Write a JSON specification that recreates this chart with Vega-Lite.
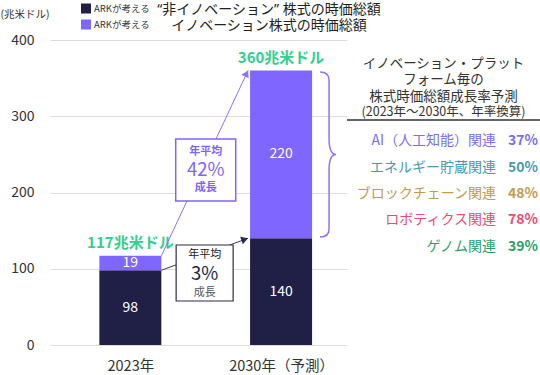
{
  "$schema": "https://vega.github.io/schema/vega-lite/v6.json",
  "padding": {"left": 0, "top": 2, "right": 0, "bottom": 0},
  "config": {
    "view": {"stroke": null},
    "font": "Noto Sans CJK JP",
    "locale": {"number": {"decimal": ".", "thousands": ",", "grouping": [3], "currency": ["", "兆米ドル"]}}
  },
  "datasets": {
    "segments": [
      {"year": 2023, "segment": "非イノベーション", "legendText": "“非イノベーション” 株式の時価総額", "value": 98},
      {"year": 2023, "segment": "イノベーション", "legendText": "イノベーション株式の時価総額", "value": 19},
      {"year": 2030, "segment": "非イノベーション", "legendText": "“非イノベーション” 株式の時価総額", "value": 140},
      {"year": 2030, "segment": "イノベーション", "legendText": "イノベーション株式の時価総額", "value": 220}
    ],
    "growth": [
      {"from": 2023, "to": 2030, "start": 117, "end": 360, "segment": "イノベーション", "rate": 0.42},
      {"from": 2023, "to": 2030, "start": 98, "end": 140, "segment": "非イノベーション", "rate": 0.03}
    ],
    "sectors": [
      {"sector": "AI（人工知能）関連", "cagr": 0.37},
      {"sector": "エネルギー貯蔵関連", "cagr": 0.50},
      {"sector": "ブロックチェーン関連", "cagr": 0.48},
      {"sector": "ロボティクス関連", "cagr": 0.78},
      {"sector": "ゲノム関連", "cagr": 0.39}
    ]
  },
  "spacing": 0,
  "bounds": "flush",
  "center": true,
  "resolve": {"scale": {"color": "independent", "fill": "independent", "stroke": "independent", "opacity": "independent"}, "legend": {"color": "independent", "opacity": "independent"}},
  "hconcat": [
    {
      "width": 297,
      "height": 305,
      "layer": [
        {
          "data": {"name": "segments"},
          "mark": {"type": "bar", "size": 62},
          "encoding": {
            "x": {"field": "year", "type": "quantitative", "scale": {"domain": [2019.5, 2032.83], "nice": false, "zero": false},
              "axis": {"values": [2023, 2030], "labelExpr": "datum.value == 2023 ? '2023年' : '2030年（予測）'", "title": null, "ticks": false, "domain": false, "grid": false, "labelFontSize": 14.5, "labelColor": "#333333", "labelPadding": 14}},
            "y": {"field": "value", "type": "quantitative", "stack": "zero", "scale": {"domain": [0, 400], "nice": false},
              "axis": {"values": [0, 100, 200, 300, 400], "title": "(兆米ドル)", "titleAngle": 0, "titleAlign": "left", "titleBaseline": "middle", "titleX": -50, "titleY": -26, "titleFontSize": 10.5, "titleFontWeight": "normal", "titleColor": "#333333", "labelFontSize": 14, "labelColor": "#333333", "labelPadding": 16, "ticks": false, "domain": false, "gridColor": "#DDDDDD", "gridWidth": 1.2}},
            "color": {"field": "segment", "type": "nominal", "scale": {"domain": ["非イノベーション", "イノベーション"], "range": ["#201F46", "#7F66FF"]},
              "legend": {"orient": "none", "legendX": 31, "legendY": -36.5, "direction": "vertical", "title": null, "symbolType": "square", "symbolSize": 100, "symbolStrokeWidth": 0, "labelFontSize": 9.5, "labelColor": "#333333", "labelOffset": 3, "rowPadding": 6, "labelExpr": "'ARKが考える'", "padding": 0}},
            "opacity": {"field": "legendText", "type": "ordinal", "scale": {"domain": ["“非イノベーション” 株式の時価総額", "イノベーション株式の時価総額"], "range": [1, 1]},
              "legend": {"orient": "none", "legendX": 205, "legendY": -37.5, "direction": "vertical", "title": null, "symbolSize": 0, "symbolStrokeWidth": 0, "symbolOpacity": 0, "labelFont": "Noto Sans, Noto Sans CJK JP", "labelAlign": "center", "labelFontSize": 14, "labelLimit": 400, "labelColor": "#222222", "labelOffset": 0, "rowPadding": 2, "padding": 0}},
            "order": {"field": "segment", "sort": "descending"}
          }
        },
        {
          "data": {"name": "segments"},
          "mark": {"type": "text", "color": "white", "fontSize": 14},
          "encoding": {
            "x": {"field": "year", "type": "quantitative"},
            "y": {"field": "value", "type": "quantitative", "stack": "zero", "bandPosition": 0.5},
            "text": {"field": "value", "type": "quantitative"},
            "order": {"field": "segment", "sort": "descending"}
          }
        },
        {
          "data": {"name": "segments"},
          "transform": [{"aggregate": [{"op": "sum", "field": "value", "as": "total"}], "groupby": ["year"]}],
          "mark": {"type": "text", "color": "#2FD18D", "fontSize": 15, "fontWeight": "bold", "baseline": "bottom", "dy": -5},
          "encoding": {
            "x": {"field": "year", "type": "quantitative"},
            "y": {"field": "total", "type": "quantitative"},
            "text": {"field": "total", "type": "quantitative", "format": "$d"}
          }
        },
        {
          "data": {"name": "growth"},
          "mark": {"type": "rule", "xOffset": 31, "x2Offset": -33, "strokeWidth": 1},
          "encoding": {
            "x": {"field": "from", "type": "quantitative"},
            "x2": {"field": "to"},
            "y": {"field": "start", "type": "quantitative"},
            "y2": {"field": "end"},
            "stroke": {"field": "segment", "type": "nominal", "scale": {"domain": ["非イノベーション", "イノベーション"], "range": ["#3A3A5C", "#8A74FF"]}, "legend": null}
          }
        },
        {
          "data": {"name": "growth"},
          "transform": [{"filter": "datum.rate > 0.1"}],
          "mark": {"type": "point", "shape": "triangle-up", "size": 64, "filled": true, "color": "#8A74FF", "opacity": 1, "angle": 26, "xOffset": -34.5, "yOffset": 3},
          "encoding": {"x": {"field": "to", "type": "quantitative"}, "y": {"field": "end", "type": "quantitative"}}
        },
        {
          "data": {"name": "growth"},
          "transform": [{"filter": "datum.rate < 0.1"}],
          "mark": {"type": "point", "shape": "triangle-up", "size": 64, "filled": true, "color": "#2B2B4B", "opacity": 1, "angle": 71, "xOffset": -36.3, "yOffset": 1.2},
          "encoding": {"x": {"field": "to", "type": "quantitative"}, "y": {"field": "end", "type": "quantitative"}}
        },
        {
          "data": {"name": "growth"},
          "transform": [{"filter": "datum.rate > 0.1"}],
          "mark": {"type": "point", "shape": "M-0.097,-1Q0.012,-1 0.012,-0.9L0.012,-0.19Q0.012,0 0.097,0Q0.012,0 0.012,0.19L0.012,0.9Q0.012,1 -0.097,1", "size": 27225, "filled": false, "stroke": "#8A74FF", "strokeWidth": 1.5, "opacity": 1, "xOffset": 47},
          "encoding": {"x": {"field": "to", "type": "quantitative"}, "y": {"datum": 250}}
        },
        {
          "data": {"name": "growth"},
          "transform": [{"filter": "datum.rate > 0.1"}],
          "mark": {"type": "point", "shape": "M-0.968,-1H0.968V1H-0.968Z", "size": 3844, "filled": true, "fill": "white", "stroke": "#7F66FF", "strokeWidth": 1.5, "opacity": 1},
          "encoding": {"x": {"datum": 2026.5}, "y": {"datum": 229.5}}
        },
        {
          "data": {"name": "growth"},
          "transform": [{"filter": "datum.rate > 0.1"}],
          "mark": {"type": "text", "color": "#7F66FF", "fontSize": 11, "fontWeight": "bold", "dy": -18},
          "encoding": {"x": {"datum": 2026.5}, "y": {"datum": 229.5}, "text": {"value": "年平均"}}
        },
        {
          "data": {"name": "growth"},
          "transform": [{"filter": "datum.rate > 0.1"}],
          "mark": {"type": "text", "color": "#7F66FF", "fontSize": 18.5, "dy": 0},
          "encoding": {"x": {"datum": 2026.5}, "y": {"datum": 229.5}, "text": {"field": "rate", "type": "quantitative", "format": ".0%"}}
        },
        {
          "data": {"name": "growth"},
          "transform": [{"filter": "datum.rate > 0.1"}],
          "mark": {"type": "text", "color": "#7F66FF", "fontSize": 11, "fontWeight": "bold", "dy": 18},
          "encoding": {"x": {"datum": 2026.5}, "y": {"datum": 229.5}, "text": {"value": "成長"}}
        },
        {
          "data": {"name": "growth"},
          "transform": [{"filter": "datum.rate < 0.1"}],
          "mark": {"type": "point", "shape": "M-1.018,-1H1.018V1H-1.018Z", "size": 3136, "filled": true, "fill": "white", "stroke": "#2B2B4B", "strokeWidth": 1.2, "opacity": 1},
          "encoding": {"x": {"datum": 2026.45}, "y": {"datum": 94.4}}
        },
        {
          "data": {"name": "growth"},
          "transform": [{"filter": "datum.rate < 0.1"}],
          "mark": {"type": "text", "color": "#222222", "fontSize": 11, "dy": -18},
          "encoding": {"x": {"datum": 2026.45}, "y": {"datum": 94.4}, "text": {"value": "年平均"}}
        },
        {
          "data": {"name": "growth"},
          "transform": [{"filter": "datum.rate < 0.1"}],
          "mark": {"type": "text", "color": "#1F1F45", "fontSize": 18.5, "dy": 1},
          "encoding": {"x": {"datum": 2026.45}, "y": {"datum": 94.4}, "text": {"field": "rate", "type": "quantitative", "format": ".0%"}}
        },
        {
          "data": {"name": "growth"},
          "transform": [{"filter": "datum.rate < 0.1"}],
          "mark": {"type": "text", "color": "#555555", "fontSize": 11, "dy": 19.5},
          "encoding": {"x": {"datum": 2026.45}, "y": {"datum": 94.4}, "text": {"value": "成長"}}
        }
      ]
    },
    {
      "width": 193,
      "height": 145,
      "data": {"name": "sectors"},
      "view": {"stroke": "#333333", "strokeWidth": 1.5, "strokeDash": [193, 1000]},
      "title": {"text": ["イノベーション・プラット", "フォーム毎の", "株式時価総額成長率予測"], "subtitle": "(2023年～2030年、年率換算)", "anchor": "middle", "fontSize": 13.5, "fontWeight": "normal", "color": "#333333", "lineHeight": 16.5, "subtitleFontSize": 12.5, "subtitleColor": "#333333", "subtitlePadding": 3, "offset": 1.5},
      "encoding": {
        "y": {"field": "sector", "type": "nominal", "sort": null, "axis": null, "scale": {"type": "point", "padding": 0.76}},
        "x": {"value": "width"},
        "fill": {"field": "sector", "type": "nominal", "sort": null, "scale": {"range": ["#7B6FF0", "#4A9AAE", "#C49A4E", "#EE4B73", "#2E9E6B"]}, "legend": null}
      },
      "layer": [
        {"mark": {"type": "text", "align": "right", "fontSize": 14, "dx": -44, "dy": 1.5}, "encoding": {"text": {"field": "sector"}}},
        {"mark": {"type": "text", "align": "right", "fontSize": 14, "fontWeight": "bold", "dx": -2, "dy": 1.5}, "encoding": {"text": {"field": "cagr", "type": "quantitative", "format": ".0%"}}}
      ]
    }
  ]
}
